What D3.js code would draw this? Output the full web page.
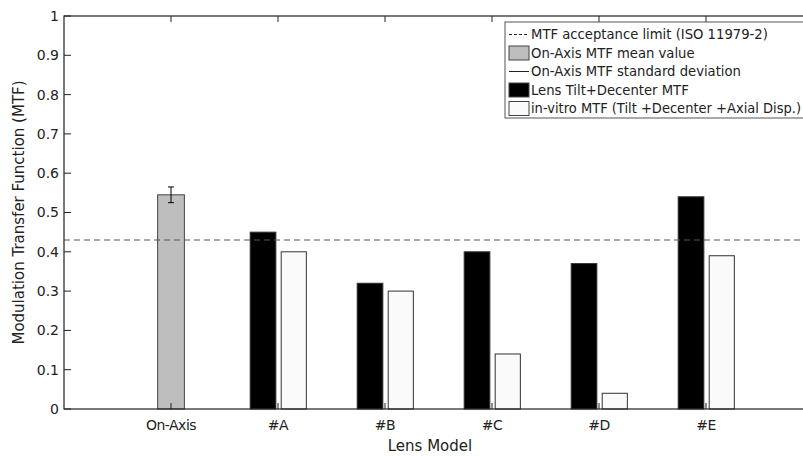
<!DOCTYPE html>
<html>
<head>
<meta charset="utf-8">
<script src="https://cdn.jsdelivr.net/npm/d3@7"></script>
<style>
body { margin: 0; background: #fff; overflow: hidden; }
text { font-family: "DejaVu Sans", sans-serif; fill: #222; }
</style>
</head>
<body>
<svg id="chart" width="803" height="456"></svg>
<script>
// categories and values
var categories = ["On-Axis", "#A", "#B", "#C", "#D", "#E"];
var onAxisMean = 0.545;
var onAxisStd = 0.02;
var tiltDecenter = [null, 0.45, 0.32, 0.40, 0.37, 0.54];
var inVitro = [null, 0.40, 0.30, 0.14, 0.04, 0.39];
var acceptanceLimit = 0.43;
var yTicks = [0, 0.1, 0.2, 0.3, 0.4, 0.5, 0.6, 0.7, 0.8, 0.9, 1];
var legendItems = [
	{label: "MTF acceptance limit (ISO 11979-2)", kind: "dash"},
	{label: "On-Axis MTF mean value", kind: "rect", fill: "#bebebe"},
	{label: "On-Axis MTF standard deviation", kind: "line"},
	{label: "Lens Tilt+Decenter MTF", kind: "rect", fill: "#000"},
	{label: "in-vitro MTF (Tilt +Decenter +Axial Disp.)", kind: "rect", fill: "#fafafa"}
];

var svg = d3.select("#chart");
var pLeft = 64, pRight = 813, pTop = 16, pBottom = 409;

var x = d3.scaleLinear().domain([0, 7]).range([pLeft, pRight]);
var y = d3.scaleLinear().domain([0, 1]).range([pBottom, pTop]);
var u = x(1) - x(0);

var plot = svg.append("g");

//On-Axis bar
plot.append("rect")
	.attr("x", x(1 - 0.125))
	.attr("y", y(onAxisMean))
	.attr("width", 0.25 * u)
	.attr("height", y(0) - y(onAxisMean))
	.attr("fill", "#bebebe")
	.attr("stroke", "#444")
	.attr("stroke-width", 1);

//Error bar
var ex = x(1);
plot.append("line")
	.attr("x1", ex).attr("x2", ex)
	.attr("y1", y(onAxisMean - onAxisStd)).attr("y2", y(onAxisMean + onAxisStd))
	.attr("stroke", "#000").attr("stroke-width", 1);
[onAxisMean - onAxisStd, onAxisMean + onAxisStd].forEach(function(v){
	plot.append("line")
		.attr("x1", ex - 3).attr("x2", ex + 3)
		.attr("y1", y(v)).attr("y2", y(v))
		.attr("stroke", "#000").attr("stroke-width", 1);
});

//Grouped bars
categories.forEach(function(c, i){
	if (tiltDecenter[i] == null) return;
	var cx = i + 1;
	plot.append("rect")
		.attr("x", x(cx - 0.26))
		.attr("y", y(tiltDecenter[i]))
		.attr("width", 0.24 * u)
		.attr("height", y(0) - y(tiltDecenter[i]))
		.attr("fill", "#000")
		.attr("stroke", "#333");
	plot.append("rect")
		.attr("x", x(cx + 0.03))
		.attr("y", y(inVitro[i]))
		.attr("width", 0.235 * u)
		.attr("height", y(0) - y(inVitro[i]))
		.attr("fill", "#fafafa")
		.attr("stroke", "#333");
});

//Acceptance limit
plot.append("line")
	.attr("x1", pLeft).attr("x2", pRight)
	.attr("y1", y(acceptanceLimit)).attr("y2", y(acceptanceLimit))
	.attr("stroke", "#555")
	.attr("stroke-width", 1.2)
	.attr("stroke-dasharray", "6,4");

//Axes box
svg.append("rect")
	.attr("x", pLeft).attr("y", pTop)
	.attr("width", pRight - pLeft).attr("height", pBottom - pTop)
	.attr("fill", "none").attr("stroke", "#222").attr("stroke-width", 1.2);

//Y ticks
yTicks.forEach(function(t){
	svg.append("line")
		.attr("x1", pLeft).attr("x2", pLeft + 7)
		.attr("y1", y(t)).attr("y2", y(t))
		.attr("stroke", "#222");
	svg.append("text")
		.attr("x", pLeft - 5).attr("y", y(t))
		.attr("dy", "0.35em")
		.attr("text-anchor", "end")
		.attr("font-size", 14)
		.text(t);
});

//X ticks
categories.forEach(function(c, i){
	var tx = x(i + 1);
	svg.append("line")
		.attr("x1", tx).attr("x2", tx)
		.attr("y1", pBottom).attr("y2", pBottom - 6)
		.attr("stroke", "#222");
	svg.append("line")
		.attr("x1", tx).attr("x2", tx)
		.attr("y1", pTop).attr("y2", pTop + 6)
		.attr("stroke", "#222");
	svg.append("text")
		.attr("x", tx).attr("y", 430)
		.attr("text-anchor", "middle")
		.attr("font-size", 14)
		.attr("letter-spacing", "-0.5px")
		.text(c);
});

//Axis labels
svg.append("text")
	.attr("x", 430).attr("y", 451)
	.attr("text-anchor", "middle")
	.attr("font-size", 15)
	.text("Lens Model");
svg.append("text")
	.attr("transform", "translate(24," + ((pTop + pBottom) / 2) + ") rotate(-90)")
	.attr("text-anchor", "middle")
	.attr("font-size", 15)
	.text("Modulation Transfer Function (MTF)");

//Legend
var lg = svg.append("g");
lg.append("rect")
	.attr("x", 505).attr("y", 22)
	.attr("width", 310).attr("height", 96)
	.attr("fill", "#fff").attr("stroke", "#555");
legendItems.forEach(function(d, i){
	var cy = 34.5 + i * 18.5;
	if (d.kind == "dash"){
		lg.append("line")
			.attr("x1", 509).attr("x2", 529)
			.attr("y1", cy).attr("y2", cy)
			.attr("stroke", "#222").attr("stroke-dasharray", "3,2");
	}
	else if (d.kind == "line"){
		lg.append("line")
			.attr("x1", 509).attr("x2", 529)
			.attr("y1", cy).attr("y2", cy)
			.attr("stroke", "#222");
	}
	else{
		lg.append("rect")
			.attr("x", 509).attr("y", cy - 7)
			.attr("width", 20).attr("height", 14)
			.attr("fill", d.fill).attr("stroke", "#444");
	}
	var t = lg.append("text")
		.attr("x", 531).attr("y", cy)
		.attr("dy", "0.35em")
		.attr("font-size", 13.2)
		.text(d.label);
	if (t.node().getComputedTextLength() > 270){
		t.attr("textLength", 270).attr("lengthAdjust", "spacingAndGlyphs");
	}
});
</script>
</body>
</html>
